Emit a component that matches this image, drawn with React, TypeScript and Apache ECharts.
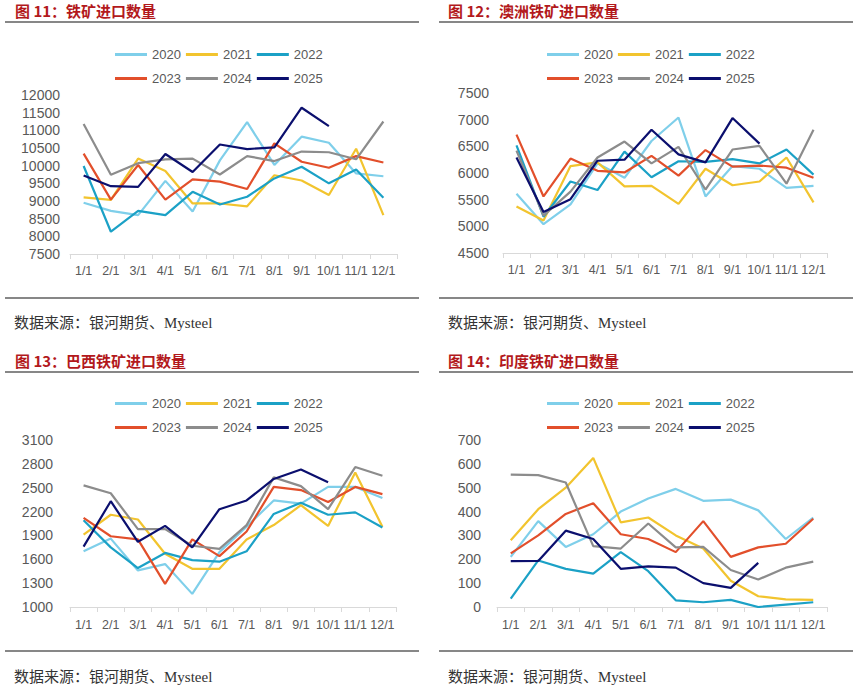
import React, { useEffect, useRef } from "react";
import * as echarts from "echarts";

const months = ["1/1", "2/1", "3/1", "4/1", "5/1", "6/1", "7/1", "8/1", "9/1", "10/1", "11/1", "12/1"];
const years = ["2020", "2021", "2022", "2023", "2024", "2025"];
const colors = ["#7fcfea", "#f2c42e", "#1ba1c6", "#e24f2b", "#8c8c8c", "#0b0f6e"];

// 图11 铁矿进口数量
const total2020 = [8950, 8720, 8600, 9570, 8700, 10150, 11230, 10020, 10820, 10650, 9780, 9700];
const total2021 = [9100, 9030, 10200, 9850, 8930, 8930, 8850, 9730, 9580, 9170, 10480, 8600];
const total2022 = [9990, 8130, 8720, 8600, 9260, 8900, 9120, 9640, 9970, 9500, 9890, 9090];
const total2023 = [10340, 9040, 10020, 9040, 9610, 9550, 9340, 10630, 10110, 9940, 10270, 10090];
const total2024 = [11180, 9740, 10070, 10180, 10200, 9750, 10270, 10130, 10400, 10380, 10180, 11250];
const total2025 = [9720, 9420, 9400, 10330, 9820, 10600, 10470, 10520, 11640, 11120];
const totalTicks = [7500, 8000, 8500, 9000, 9500, 10000, 10500, 11000, 11500, 12000];

// 图12 澳洲铁矿进口数量
const aus2020 = [5610, 5040, 5410, 6180, 5910, 6600, 7040, 5560, 6130, 6080, 5720, 5760];
const aus2021 = [5370, 5110, 6130, 6200, 5750, 5760, 5420, 6080, 5770, 5840, 6290, 5450];
const aus2022 = [6520, 5180, 5840, 5680, 6400, 5920, 6220, 6210, 6260, 6180, 6440, 5970];
const aus2023 = [6720, 5560, 6270, 6040, 6010, 6320, 5950, 6430, 6120, 6140, 6100, 5910];
const aus2024 = [6420, 5200, 5650, 6290, 6590, 6180, 6490, 5690, 6440, 6510, 5800, 6810];
const aus2025 = [6290, 5270, 5510, 6230, 6250, 6810, 6350, 6200, 7030, 6550];
const ausTicks = [4500, 5000, 5500, 6000, 6500, 7000, 7500];

// 图13 巴西铁矿进口数量
const bra2020 = [1700, 1860, 1460, 1540, 1165, 1690, 2010, 2340, 2300, 2510, 2510, 2370];
const bra2021 = [1910, 2160, 2100, 1670, 1480, 1480, 1850, 2030, 2280, 2020, 2690, 2010];
const bra2022 = [2090, 1750, 1490, 1680, 1590, 1570, 1700, 2170, 2310, 2160, 2190, 2000];
const bra2023 = [2120, 1890, 1850, 1290, 1850, 1640, 1950, 2510, 2470, 2320, 2510, 2420];
const bra2024 = [2530, 2430, 1980, 1980, 1770, 1730, 2030, 2630, 2520, 2230, 2760, 2650];
const bra2025 = [1760, 2330, 1820, 2020, 1750, 2230, 2340, 2610, 2730, 2570];
const braTicks = [1000, 1300, 1600, 1900, 2200, 2500, 2800, 3100];

// 图14 印度铁矿进口数量
const ind2020 = [210, 360, 252, 305, 400, 455, 495, 445, 450, 405, 285, 375];
const ind2021 = [280, 410, 500, 625, 355, 375, 300, 245, 110, 45, 32, 30];
const ind2022 = [35, 195, 160, 140, 230, 150, 28, 20, 30, 0, 10, 20];
const ind2023 = [225, 300, 390, 435, 305, 285, 230, 360, 210, 250, 265, 370];
const ind2024 = [555, 553, 522, 255, 245, 350, 250, 252, 155, 115, 165, 190];
const ind2025 = [192, 193, 320, 285, 160, 170, 165, 100, 80, 185];
const indTicks = [0, 100, 200, 300, 400, 500, 600, 700];

const titles = ["图 11：铁矿进口数量", "图 12：澳洲铁矿进口数量", "图 13：巴西铁矿进口数量", "图 14：印度铁矿进口数量"];
const sourceText = "数据来源：银河期货、Mysteel";

const panels = [
  { data: [total2020, total2021, total2022, total2023, total2024, total2025], ticks: totalTicks },
  { data: [aus2020, aus2021, aus2022, aus2023, aus2024, aus2025], ticks: ausTicks },
  { data: [bra2020, bra2021, bra2022, bra2023, bra2024, bra2025], ticks: braTicks },
  { data: [ind2020, ind2021, ind2022, ind2023, ind2024, ind2025], ticks: indTicks },
];

const grids = [
  { left: 70, top: 95, width: 327, height: 159 },
  { left: 503, top: 93, width: 324, height: 160 },
  { left: 70, top: 440, width: 326, height: 167 },
  { left: 497, top: 440, width: 330, height: 167 },
];
const yMargins = [10, 14, 17, 16];
const xMargins = [10, 10, 11, 11];
const legendPos = [
  { left: 115, top: 55 },
  { left: 547, top: 55 },
  { left: 115, top: 404 },
  { left: 547, top: 404 },
];
const titlePos = [
  { x: 15, y: 10 },
  { x: 448, y: 10 },
  { x: 15, y: 360 },
  { x: 448, y: 360 },
];
const sourcePos = [
  { x: 14, y: 323 },
  { x: 448, y: 323 },
  { x: 14, y: 677 },
  { x: 448, y: 677 },
];
const ruleYs = [22, 298, 372, 651];

export default function App() {
  const ref = useRef<HTMLDivElement>(null);
  useEffect(() => {
    document.body.style.margin = "0";
    if (!ref.current) return;
    const chart = echarts.init(ref.current, null, { renderer: "svg" });
    const axisColor = "#d9d9d9";
    const labelColor = "#595959";
    const font = "'Liberation Sans', Arial, sans-serif";

    const xAxis = grids.map((_, i) => ({
      type: "category",
      gridIndex: i,
      data: months,
      boundaryGap: true,
      axisLine: { show: true, lineStyle: { color: axisColor, width: 1 } },
      axisTick: { show: true, length: 5, lineStyle: { color: axisColor } },
      axisLabel: { interval: 0, fontSize: 12.5, color: labelColor, fontFamily: font, margin: xMargins[i] },
      splitLine: { show: false },
    }));
    const yAxis = panels.map((p, i) => ({
      type: "value",
      gridIndex: i,
      min: p.ticks[0],
      max: p.ticks[p.ticks.length - 1],
      axisLine: { show: false },
      axisTick: { show: false },
      splitLine: { show: false },
      axisLabel: {
        customValues: p.ticks,
        formatter: (v: number) => String(v),
        fontSize: 14,
        color: labelColor,
        fontFamily: font,
        margin: yMargins[i],
      },
    }));
    const series: any[] = [];
    panels.forEach((p, i) => {
      p.data.forEach((d, k) => {
        series.push({
          type: "line",
          name: years[k],
          xAxisIndex: i,
          yAxisIndex: i,
          data: d,
          symbol: "none",
          color: colors[k],
          lineStyle: { width: 2.2, color: colors[k] },
        });
      });
    });
    const legend: any[] = [];
    legendPos.forEach((lp) => {
      [years.slice(0, 3), years.slice(3)].forEach((row, r) => {
        legend.push({
          data: row,
          left: lp.left,
          top: lp.top + r * 24 - 7,
          padding: 0,
          itemGap: 5,
          itemWidth: 32,
          itemHeight: 3,
          icon: "rect",
          selectedMode: false,
          textStyle: { fontSize: 13, color: labelColor, fontFamily: font },
        });
      });
    });
    const graphic: any[] = [];
    titles.forEach((t, i) => {
      graphic.push({
        type: "text",
        x: titlePos[i].x,
        y: titlePos[i].y,
        style: {
          text: t,
          fill: "#b3191c",
          font: "bold 15px 'Noto Sans CJK SC', sans-serif",
          textVerticalAlign: "middle",
          verticalAlign: "middle",
        },
      });
      graphic.push({
        type: "text",
        x: sourcePos[i].x,
        y: sourcePos[i].y,
        style: {
          text: sourceText,
          fill: "#333333",
          font: "15px 'Liberation Serif', 'Noto Sans CJK SC', serif",
          verticalAlign: "middle",
          textVerticalAlign: "middle",
        },
      });
    });
    ruleYs.forEach((y) => {
      [
        [5, 419],
        [439, 853],
      ].forEach(([x1, x2]) => {
        graphic.push({
          type: "line",
          shape: { x1, y1: y, x2, y2: y },
          style: { stroke: "#111111", lineWidth: 1.2 },
        });
      });
    });

    chart.setOption({
      animation: false,
      backgroundColor: "#ffffff",
      grid: grids,
      xAxis,
      yAxis,
      legend,
      series,
      graphic,
    });
    return () => chart.dispose();
  }, []);
  return <div ref={ref} style={{ width: 857, height: 692, position: "absolute", left: 0, top: 0 }} />;
}
